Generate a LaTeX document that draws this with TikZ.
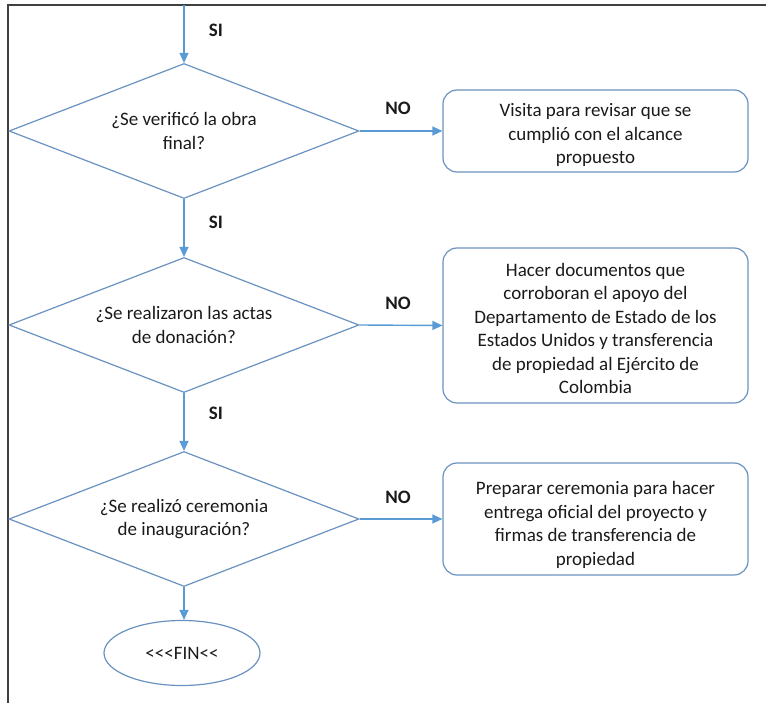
\documentclass[tikz,border=0pt]{standalone}
\usepackage{fontspec}
\setmainfont{Carlito}
\usetikzlibrary{shapes.geometric,arrows.meta}
\definecolor{shapeblue}{HTML}{6A92C0}
\definecolor{arrowblue}{HTML}{5B9BD5}
\definecolor{txt}{HTML}{1A1A1A}
\tikzset{
  dec/.style={diamond, draw=shapeblue, line width=1.2pt, aspect=2.6, inner sep=0pt,
    minimum width=350pt, minimum height=135pt, align=center, text=txt,
    font=\fontsize{19pt}{23.5pt}\selectfont},
  actbox/.style={rectangle, rounded corners=14pt, draw=shapeblue, line width=1.2pt,
    minimum width=305pt},
  boxtext/.style={align=center, text=txt, inner sep=0pt,
    font=\fontsize{19pt}{23.5pt}\selectfont},
  finnode/.style={ellipse, draw=shapeblue, line width=1.2pt, minimum width=156pt,
    minimum height=65pt, inner sep=0pt, text=txt, font=\fontsize{19pt}{23.5pt}\selectfont},
  flow/.style={draw=arrowblue, line width=1.4pt, -{Triangle[length=10pt,width=9pt]}},
  lab/.style={font=\fontsize{19pt}{20pt}\selectfont\bfseries, text=txt, inner sep=0pt},
  frame/.style={draw=black!75, line width=1.2pt}
}
\begin{document}
\begin{tikzpicture}[x=1pt,y=-1pt]
\useasboundingbox (0,0) rectangle (766,703);
\draw[frame] (8,703) -- (8,5) -- (766,5);
\coordinate (top) at (184,5);
\node[dec] (d1) at (184,131) {¿Se verificó la obra\\final?};
\node[dec] (d2) at (184,325) {¿Se realizaron las actas\\de donación?};
\node[dec] (d3) at (184,519) {¿Se realizó ceremonia\\de inauguración?};
\node[actbox, minimum height=82pt] (b1) at (595.5,131) {};
\node[actbox, minimum height=155pt] (b2) at (595.5,325.5) {};
\node[actbox, minimum height=112pt] (b3) at (595.5,519) {};
\node[boxtext] (t1) at (595.5,135) {Visita para revisar que se\\cumplió con el alcance\\propuesto};
\node[boxtext] (t2) at (595.5,328.5) {Hacer documentos que\\corroboran el apoyo del\\Departamento de Estado de los\\Estados Unidos y transferencia\\de propiedad al Ejército de\\Colombia};
\node[boxtext] (t3) at (595.5,525) {Preparar ceremonia para hacer\\entrega oficial del proyecto y\\firmas de transferencia de\\propiedad};
\node[finnode] (fin) at (182,653) {<\kern0pt<\kern0pt<FIN<\kern0pt<};
\draw[flow] (top) -- (d1.north);
\draw[flow] (d1.south) -- (d2.north);
\draw[flow] (d2.south) -- (d3.north);
\draw[flow] (d3.south) -- (d3.south |- fin.north);
\draw[flow] (d1.east) -- (b1.west);
\draw[flow] (d2.east) -- (b2.west);
\draw[flow] (d3.east) -- (b3.west);
\node[lab] (si1) at (216,30) {SI};
\node[lab] (si2) at (216,222) {SI};
\node[lab] (si3) at (216,413) {SI};
\node[lab] (no1) at (398,108) {NO};
\node[lab] (no2) at (398,303) {NO};
\node[lab] (no3) at (398,497) {NO};
\end{tikzpicture}
\end{document}
